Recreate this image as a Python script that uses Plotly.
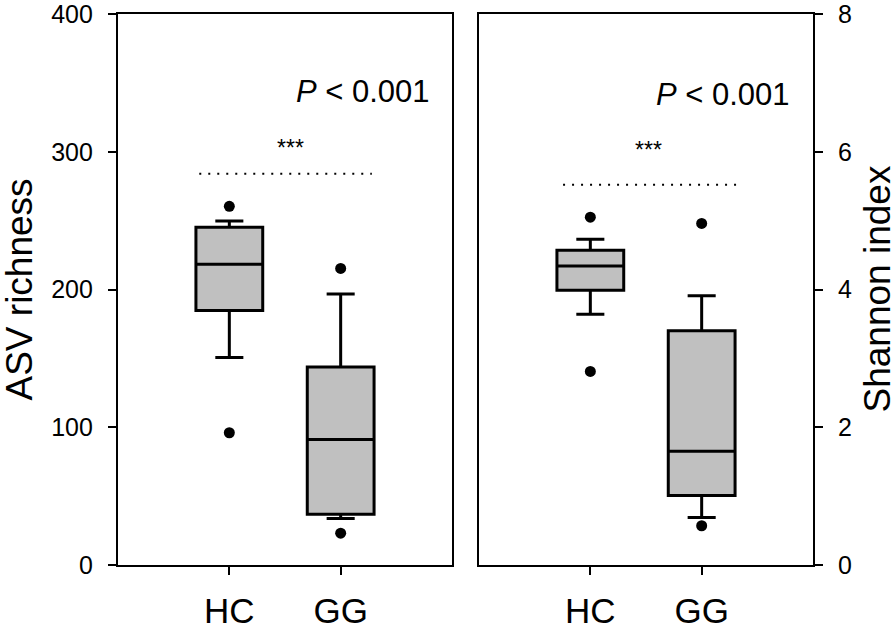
import plotly.graph_objects as go

# ---- data ----
categories = ["HC", "GG"]
cat_pos = [0, 1]

asv_q1 = [184.7, 36.9]
asv_median = [218.4, 91.1]
asv_q3 = [245.2, 143.7]
asv_lower = [150.7, 33.7]
asv_upper = [249.8, 196.7]
asv_outliers_hc = [260.4, 96.0]
asv_outliers_gg = [215.3, 23.1]

sh_q1 = [3.99, 1.01]
sh_median = [4.34, 1.65]
sh_q3 = [4.57, 3.40]
sh_lower = [3.64, 0.69]
sh_upper = [4.73, 3.91]
sh_outliers_hc = [5.05, 2.81]
sh_outliers_gg = [4.96, 0.57]

asv_ticks = [0, 100, 200, 300, 400]
sh_ticks = [0, 2, 4, 6, 8]

p_text = "<i>P</i> &lt; 0.001"
sig_text = "***"

FONT = "Arial, Liberation Sans, sans-serif"
BOX_FILL = "#c0c0c0"

fig = go.Figure()

def add_panel(xa, ya, q1, med, q3, lo, up, out_hc, out_gg):
    fig.add_trace(go.Box(
        x=cat_pos, q1=q1, median=med, q3=q3, lowerfence=lo, upperfence=up,
        width=0.6, whiskerwidth=0.42, boxpoints=False,
        fillcolor=BOX_FILL, line=dict(color="black", width=3),
        xaxis=xa, yaxis=ya, showlegend=False, hoverinfo="skip"))
    fig.add_trace(go.Scatter(
        x=[cat_pos[0]] * len(out_hc) + [cat_pos[1]] * len(out_gg),
        y=out_hc + out_gg, mode="markers",
        marker=dict(color="black", size=11),
        xaxis=xa, yaxis=ya, showlegend=False, hoverinfo="skip"))

add_panel("x", "y", asv_q1, asv_median, asv_q3, asv_lower, asv_upper,
          asv_outliers_hc, asv_outliers_gg)
add_panel("x2", "y2", sh_q1, sh_median, sh_q3, sh_lower, sh_upper,
          sh_outliers_hc, sh_outliers_gg)

axis_common = dict(showline=True, linecolor="black", linewidth=2.2, mirror=True,
                   ticks="outside", ticklen=8, tickwidth=2.2, tickcolor="black",
                   showgrid=False, zeroline=False, ticklabeloverflow="allow")

fig.update_layout(
    width=896, height=630,
    paper_bgcolor="white", plot_bgcolor="white",
    margin=dict(l=0, r=0, t=13, b=64),
    font=dict(family=FONT, color="black"),
    xaxis=dict(domain=[118/896, 452/896], range=[-1, 2],
               tickvals=cat_pos, ticktext=categories,
               tickfont=dict(size=35), ticklabelstandoff=6, **axis_common),
    yaxis=dict(domain=[0, 1], range=[0, 400], tickvals=asv_ticks,
               tickfont=dict(size=25), ticklabelstandoff=10, **axis_common),
    xaxis2=dict(domain=[479/896, 813/896], range=[-1, 2], anchor="y2",
                tickvals=cat_pos, ticktext=categories,
                tickfont=dict(size=35), ticklabelstandoff=6, **axis_common),
    yaxis2=dict(domain=[0, 1], range=[0, 8], anchor="x2", side="right",
                tickvals=sh_ticks, tickfont=dict(size=25), ticklabelstandoff=10,
                **axis_common),
)

# dotted significance lines
fig.add_shape(type="line", xref="x", yref="y", x0=-0.27, x1=1.28, y0=284, y1=284,
              line=dict(color="black", width=2, dash="2px,7px"))
fig.add_shape(type="line", xref="x2", yref="y2", x0=-0.245, x1=1.31, y0=5.52, y1=5.52,
              line=dict(color="black", width=2, dash="2px,7px"))

annos = [
    dict(x=0.545, y=303, xref="x", yref="y", text=sig_text, font=dict(size=23)),
    dict(x=0.52, y=6.02, xref="x2", yref="y2", text=sig_text, font=dict(size=23)),
    dict(x=1.197, y=344, xref="x", yref="y", text=p_text, font=dict(size=31)),
    dict(x=1.19, y=6.83, xref="x2", yref="y2", text=p_text, font=dict(size=31)),
    dict(x=19/896, y=0.5, xref="paper", yref="paper", text="ASV richness",
         textangle=-90, font=dict(size=37)),
    dict(x=877/896, y=0.5, xref="paper", yref="paper", text="Shannon index",
         textangle=-90, font=dict(size=37)),
]
for a in annos:
    fig.add_annotation(showarrow=False, xanchor="center", yanchor="middle", **a)

fig.write_html("out.html",
               config={"displayModeBar": False},
               post_script="document.body.style.margin='0px';"
                           "document.body.style.overflow='hidden';")
